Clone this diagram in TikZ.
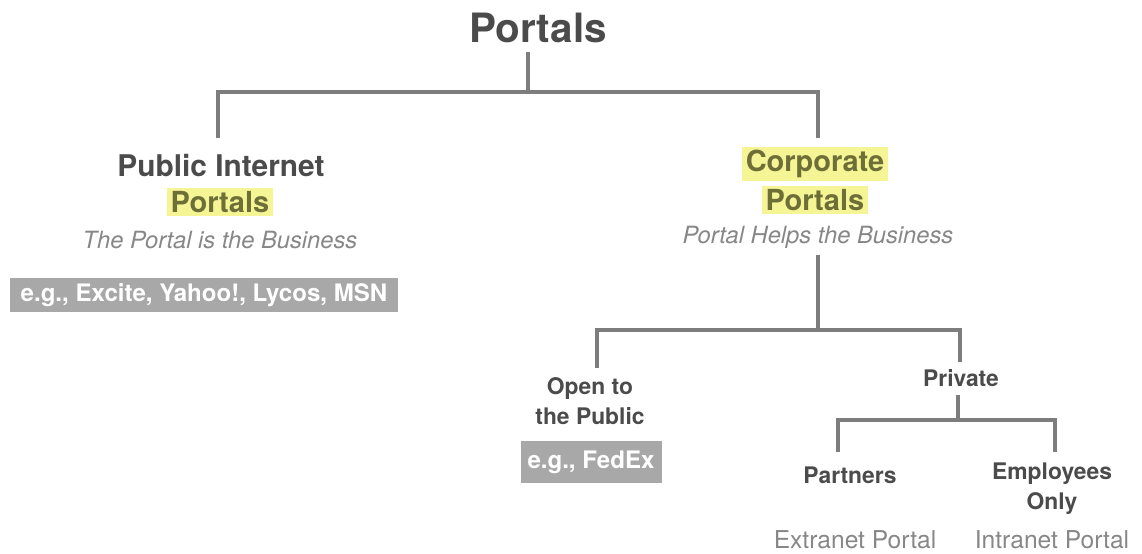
\documentclass[tikz,border=0pt]{standalone}
\usepackage{fontspec}
\setmainfont{TeX Gyre Heros}
\definecolor{txt}{RGB}{75,75,75}
\definecolor{soft}{RGB}{135,135,135}
\definecolor{hl}{RGB}{245,245,150}
\definecolor{hltxt}{RGB}{110,110,55}
\definecolor{boxgray}{RGB}{168,168,168}
\definecolor{linegray}{RGB}{125,125,125}
\tikzset{
  head/.style={text=txt, font=\bfseries\fontsize{17}{20}\selectfont, align=center, inner sep=1pt},
  small/.style={text=txt, font=\bfseries\fontsize{13}{17}\selectfont, align=center, inner sep=1pt},
  glow/.style={fill=hl, text=hltxt, font=\bfseries\fontsize{16.5}{20}\selectfont, inner sep=2pt},
  motto/.style={text=soft, font=\itshape\fontsize{13.5}{15}\selectfont, inner sep=1pt},
  example/.style={fill=boxgray, text=white, font=\bfseries\fontsize{13.7}{15}\selectfont, inner sep=0pt},
  kind/.style={text=soft, font=\fontsize{14}{16}\selectfont, inner sep=1pt},
  branch/.style={draw=linegray, line width=2pt},
}
\begin{document}
\begin{tikzpicture}[x=0.02cm, y=-0.02cm]
	\useasboundingbox (0,0) rectangle (1142,554);
	% top level
	\node[text=txt, font=\bfseries\fontsize{23}{26}\selectfont] (top) at (538,28) {Portals};
	\coordinate (t0) at (528,52);
	\coordinate (tj) at (528,92);
	\coordinate (pubtop) at (218,138);
	\coordinate (corptop) at (818,138);
	\draw[branch] (t0) -- (tj);
	\draw[branch] (pubtop) |- (tj) -| (corptop);
	% public side
	\node[head] (pub) at (221,166) {Public Internet};
	\node[glow] (pubglow) at (220,202) {Portals};
	\node[motto] (pubmotto) at (220,240) {The Portal is the Business};
	\node[example, minimum width=388*0.02cm, minimum height=34*0.02cm] (pubex) at (204,295) {e.g., Excite, Yahoo!, Lycos, MSN};
	% corporate side
	\node[glow] (corp) at (815,164) {Corporate};
	\node[glow] (corpglow) at (815,200) {Portals};
	\node[motto] (corpmotto) at (818,237) {Portal Helps the Business};
	\coordinate (c0) at (818,255);
	\coordinate (cj) at (818,330);
	\coordinate (opentop) at (597,368);
	\coordinate (privtop) at (960,362);
	\draw[branch] (c0) -- (cj);
	\draw[branch] (opentop) |- (cj) -| (privtop);
	\node[small] (open) at (590,401) {Open to\\the Public};
	\node[example, minimum width=141*0.02cm, minimum height=42*0.02cm] (fedex) at (591,462) {e.g., FedEx};
	\node[small] (priv) at (961,378) {Private};
	% private split
	\coordinate (p0) at (958,395);
	\coordinate (pj) at (958,420);
	\coordinate (parttop) at (838,452);
	\coordinate (emptop) at (1055,452);
	\draw[branch] (p0) -- (pj);
	\draw[branch] (parttop) |- (pj) -| (emptop);
	\node[small] (part) at (850,475) {Partners};
	\node[small] (emp) at (1052,489) {Employees\\Only};
	\node[kind] (extra) at (855,540) {Extranet Portal};
	\node[kind] (intra) at (1052,540) {Intranet Portal};
\end{tikzpicture}
\end{document}
